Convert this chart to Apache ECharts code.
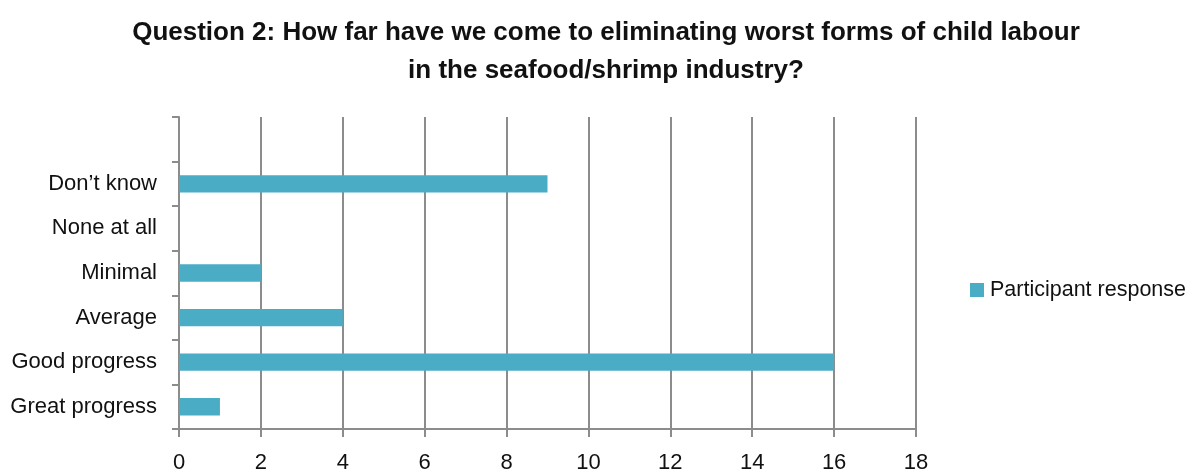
<!DOCTYPE html>
<html><head><meta charset="utf-8">
<script src="https://cdn.jsdelivr.net/npm/echarts@6/dist/echarts.min.js"></script>
<style>html,body{margin:0;padding:0;background:#fff}#c{width:1192px;height:475px}</style>
</head><body><div id="c"></div>
<script>
const categories = ['Great progress', 'Good progress', 'Average', 'Minimal', 'None at all', 'Don\u2019t know', ''];
const responses = [1, 16, 4, 2, 0, 9, null];
const xTicks = { min: 0, max: 18, interval: 2 };
const seriesName = 'Participant response';
const titleText = 'Question 2: How far have we come to eliminating worst forms of child labour\nin the seafood/shrimp industry?';

const FONT = '"Liberation Sans Narrow", "Liberation Sans", Arial, sans-serif';
const chart = echarts.init(document.getElementById('c'), null, { renderer: 'canvas' });
chart.setOption({
  animation: false,
  textStyle: { fontFamily: FONT },
  title: {
    text: titleText, left: 601, top: 9, textAlign: 'center',
    textStyle: { fontFamily: FONT, fontSize: 26, fontWeight: 'bold', color: '#111', lineHeight: 38 }
  },
  legend: {
    data: [seriesName], left: 970, top: 279, padding: 0, itemWidth: 14, itemHeight: 14, itemGap: 5,
    icon: 'rect',
    textStyle: { fontFamily: FONT, fontSize: 21.5, color: '#111', padding: [0, 0, 0, 1] }
  },
  grid: { left: 179, right: 276, top: 117, bottom: 46, containLabel: false },
  xAxis: {
    type: 'value', min: xTicks.min, max: xTicks.max, interval: xTicks.interval,
    axisLine: { show: true, lineStyle: { color: '#8c8c8c', width: 2 } },
    axisTick: { show: true, length: 8, lineStyle: { color: '#8c8c8c', width: 2 } },
    splitLine: { show: true, lineStyle: { color: '#8c8c8c', width: 2 } },
    axisLabel: { fontFamily: FONT, fontSize: 22, color: '#111', margin: 23 }
  },
  yAxis: {
    type: 'category', data: categories,
    axisLine: { show: true, lineStyle: { color: '#8c8c8c', width: 2 } },
    axisTick: { show: true, length: 7, lineStyle: { color: '#8c8c8c', width: 2 } },
    axisLabel: { fontFamily: FONT, fontSize: 22, color: '#111', margin: 22 }
  },
  series: [{
    name: seriesName, type: 'bar', data: responses, barWidth: '39%',
    itemStyle: { color: '#4BACC6' }
  }]
});
</script></body></html>
